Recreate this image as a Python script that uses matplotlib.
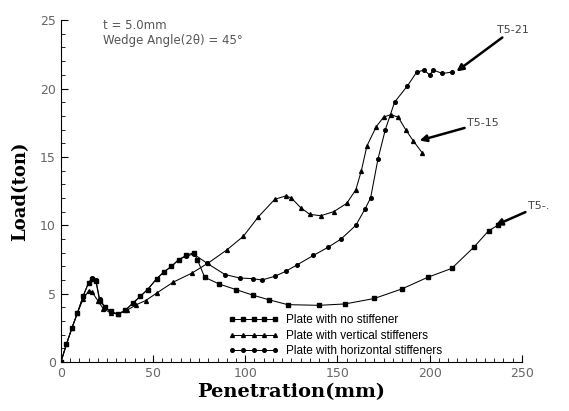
import matplotlib
matplotlib.use("Agg")
import matplotlib.pyplot as plt
from matplotlib.ticker import MultipleLocator

# plate with no stiffener (T5-.)
x_none = [0, 3, 6, 9, 12, 15, 17, 19, 21, 24, 27, 31, 35, 39, 43, 47, 52, 56, 60, 64, 68, 72,
          74, 78, 86, 95, 104, 113, 123, 140, 154, 170, 185, 199, 212, 224, 232, 237]
y_none = [0, 1.3, 2.5, 3.6, 4.8, 5.8, 6.1, 5.9, 4.5, 4.0, 3.7, 3.5, 3.8, 4.3, 4.8, 5.3, 6.1, 6.6, 7.0, 7.5, 7.8, 8.0,
          7.5, 6.2, 5.7, 5.3, 4.9, 4.55, 4.2, 4.15, 4.25, 4.65, 5.35, 6.2, 6.85, 8.4, 9.6, 10.0]

# plate with vertical stiffeners (T5-15)
x_vert = [0, 3, 6, 9, 12, 15, 17, 20, 23, 27, 31, 36, 41, 46, 52, 61, 71, 80, 90, 99, 107, 116, 122,
          125, 130, 135, 141, 148, 155, 160, 163, 166, 171, 175, 179, 183, 187, 191, 196]
y_vert = [0, 1.3, 2.5, 3.6, 4.6, 5.2, 5.1, 4.5, 3.9, 3.6, 3.5, 3.8, 4.2, 4.5, 5.05, 5.85, 6.5, 7.25, 8.2, 9.2, 10.6, 11.9, 12.15,
          12.0, 11.3, 10.8, 10.7, 11.0, 11.6, 12.6, 14.0, 15.8, 17.2, 17.9, 18.1, 17.9, 17.0, 16.2, 15.3]

# plate with horizontal stiffeners (T5-21)
x_horz = [0, 3, 6, 9, 12, 15, 17, 19, 21, 24, 27, 31, 35, 39, 43, 47, 52, 56, 60, 64, 68, 72, 79, 89,
          97, 104, 109, 116, 122, 128, 137, 145, 152, 160, 165, 168, 172, 176, 181, 188, 193, 197, 200, 202, 207, 212]
y_horz = [0, 1.3, 2.5, 3.6, 4.8, 5.8, 6.15, 6.0, 4.6, 4.0, 3.7, 3.5, 3.8, 4.3, 4.8, 5.3, 6.1, 6.6, 7.0, 7.5, 7.75, 7.9, 7.25, 6.4,
          6.15, 6.1, 6.0, 6.27, 6.64, 7.1, 7.8, 8.4, 9.0, 10.0, 11.2, 12.0, 14.85, 17.0, 19.0, 20.2, 21.2, 21.35, 21.0, 21.35, 21.1, 21.2]

labels = ["Plate with no stiffener", "Plate with vertical stiffeners", "Plate with horizontal stiffeners"]

fig = plt.figure(figsize=(5.69, 4.11), dpi=100)
ax = fig.add_axes([0.107, 0.119, 0.81, 0.832])

lw = 0.75
ax.plot(x_none, y_none, color='black', lw=lw, marker='s', ms=2.4, label=labels[0])
ax.plot(x_vert, y_vert, color='black', lw=lw, marker='^', ms=2.8, label=labels[1])
ax.plot(x_horz, y_horz, color='black', lw=lw, marker='o', ms=2.6, label=labels[2])

ax.set_xlim(0, 250)
ax.set_ylim(0, 25)
ax.spines['top'].set_visible(False)
ax.spines['right'].set_visible(False)
ax.xaxis.set_major_locator(MultipleLocator(50))
ax.xaxis.set_minor_locator(MultipleLocator(5))
ax.yaxis.set_major_locator(MultipleLocator(5))
ax.yaxis.set_minor_locator(MultipleLocator(1))
ax.tick_params(which='both', direction='in')
ax.tick_params(which='major', length=5, labelsize=9, labelcolor='#666666')
ax.tick_params(which='minor', length=3)

ax.set_xlabel("Penetration(mm)", family='DejaVu Serif', fontweight='bold', fontsize=14, labelpad=2)
ax.set_ylabel("Load(ton)", family='DejaVu Serif', fontweight='bold', fontsize=13, labelpad=8)

ax.text(22.7, 24.6, "t = 5.0mm", fontsize=8.5, color='#555555', va='center')
ax.text(22.7, 23.5, "Wedge Angle(2\u03b8) = 45\u00b0", fontsize=8.5, color='#555555', va='center')

arrow = dict(arrowstyle='-|>', color='black', lw=1.8, mutation_scale=10, shrinkA=0, shrinkB=0)
ax.annotate("T5-21", xy=(214.6, 21.25), xytext=(236.5, 24.3), fontsize=8, color='#444444',
            va='center', ha='left', arrowprops=arrow, annotation_clip=False)
ax.annotate("T5-15", xy=(194.6, 16.2), xytext=(220.5, 17.5), fontsize=8, color='#444444',
            va='center', ha='left', arrowprops=arrow, annotation_clip=False)
ax.annotate("T5-.", xy=(235.7, 10.0), xytext=(253.5, 11.4), fontsize=8, color='#444444',
            va='center', ha='left', arrowprops=arrow, annotation_clip=False)

ax.legend(loc='lower left', bbox_to_anchor=(0.345, -0.01), frameon=False,
          prop={'family': 'Liberation Sans', 'size': 8.5},
          numpoints=5, handlelength=4.3, handletextpad=0.6, labelspacing=0.3, borderpad=0.2)

fig.savefig("out.png", dpi=100)
